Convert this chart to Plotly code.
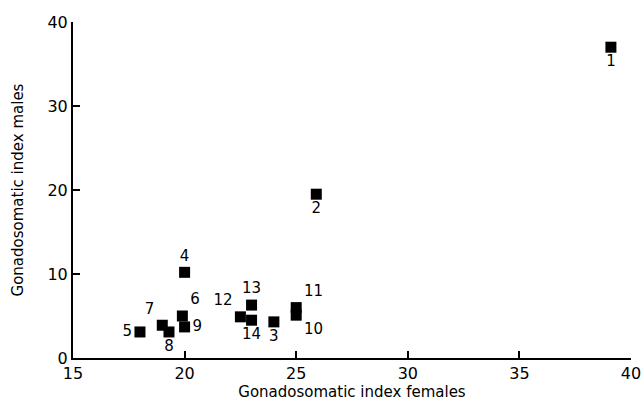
import plotly.graph_objects as go

labels = ["1", "2", "3", "4", "5", "6", "7", "8", "9", "10", "11", "12", "13", "14"]
gsi_females = [39.1, 25.9, 24.0, 20.0, 18.0, 19.9, 19.0, 19.3, 20.0, 25.0, 25.0, 22.5, 23.0, 23.0]
gsi_males = [37.0, 19.5, 4.3, 10.2, 3.1, 5.0, 3.9, 3.1, 3.7, 5.1, 6.0, 4.9, 6.3, 4.5]
label_pos = ["bottom center", "bottom center", "bottom center", "top center", "middle left",
             "top right", "top left", "bottom center", "middle right", "bottom right",
             "top right", "top left", "top center", "bottom center"]

font_family = "DejaVu Sans, Lato, sans-serif"

fig = go.Figure()
fig.add_trace(go.Scatter(
    x=gsi_females, y=gsi_males, mode="markers+text",
    text=labels, textposition=label_pos,
    textfont=dict(family=font_family, size=15, color="black"),
    marker=dict(symbol="square", size=11, color="black"),
    showlegend=False, cliponaxis=False,
))

fig.update_layout(
    width=643, height=407,
    margin=dict(l=73, r=12, t=22, b=49),
    paper_bgcolor="white", plot_bgcolor="white",
    font=dict(family=font_family, color="black"),
    xaxis=dict(range=[15, 40], tickvals=[15, 20, 25, 30, 35, 40], automargin=False,
               ticks="inside", ticklen=7, tickwidth=1.5, tickcolor="black",
               showline=True, linecolor="black", linewidth=2, showgrid=False, zeroline=False,
               tickfont=dict(size=16),
               title=dict(text="Gonadosomatic index females", font=dict(size=15), standoff=3)),
    yaxis=dict(range=[0, 40], tickvals=[0, 10, 20, 30, 40], automargin=False,
               ticks="inside", ticklen=7, tickwidth=1.5, tickcolor="black",
               showline=True, linecolor="black", linewidth=2, showgrid=False, zeroline=False,
               tickfont=dict(size=16),
               title=dict(text="Gonadosomatic index males", font=dict(size=15), standoff=20)),
)

fig.write_html("out.html")
